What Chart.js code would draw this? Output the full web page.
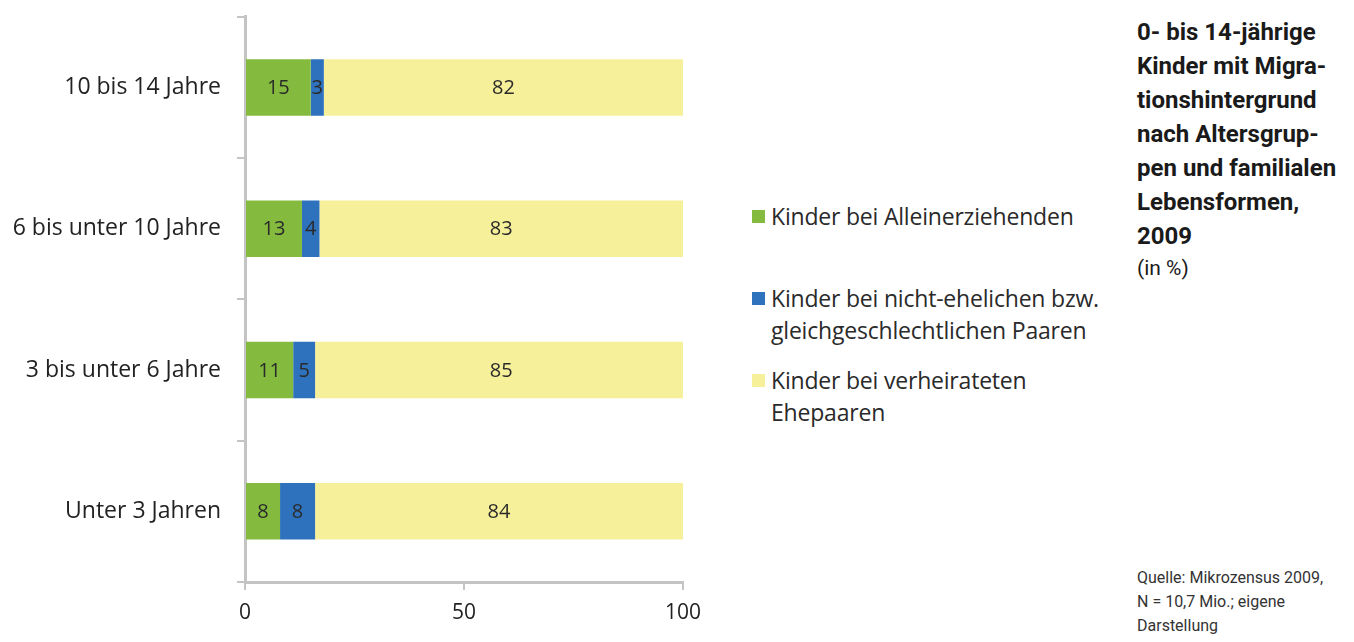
<!DOCTYPE html>
<html>
<head>
<meta charset="utf-8">
<script src="https://cdn.jsdelivr.net/npm/chart.js@4/dist/chart.umd.min.js"></script>
<style>
  body { margin: 0; background: #fff; width: 1354px; height: 642px; position: relative; overflow: hidden; }
  #wrap { position: absolute; left: 0; top: -13px; width: 711px; height: 655px; }
  #legend { position: absolute; left: 752px; top: 200px; font-family: "Open Sans", Lato, sans-serif; font-size: 23px; letter-spacing: -0.2px; color: #2a2a2a; }
  .item { position: relative; padding-left: 19px; line-height: 32px; }
  .item span.box { position: absolute; left: 0; top: 10px; width: 13px; height: 13px; }
  #title { position: absolute; left: 1137px; top: 15px; font-family: "Liberation Sans Narrow", Roboto, sans-serif; font-weight: bold; font-size: 24px; line-height: 34px; color: #1a1a1a; }
  #unit { font-weight: normal; font-size: 21px; line-height: 30px; }
  #source { position: absolute; left: 1137px; top: 566px; font-family: "Liberation Sans Narrow", Roboto, sans-serif; font-size: 16px; line-height: 24px; color: #333; }
</style>
</head>
<body>
<div id="wrap"><canvas id="chart"></canvas></div>
<div id="legend"></div>
<div id="title">0- bis 14-jährige<br>Kinder mit Migra-<br>tionshintergrund<br>nach Altersgrup-<br>pen und familialen<br>Lebensformen,<br>2009<div id="unit">(in %)</div></div>
<div id="source">Quelle: Mikrozensus 2009,<br>N = 10,7 Mio.; eigene<br>Darstellung</div>
<script>
const categories = ["10 bis 14 Jahre", "6 bis unter 10 Jahre", "3 bis unter 6 Jahre", "Unter 3 Jahren"];
const alleinerziehend = [15, 13, 11, 8];
const nichtEhelich = [3, 4, 5, 8];
const verheiratet = [82, 83, 85, 84];
const seriesNames = [
  ["Kinder bei Alleinerziehenden"],
  ["Kinder bei nicht-ehelichen bzw.", "gleichgeschlechtlichen Paaren"],
  ["Kinder bei verheirateten", "Ehepaaren"]
];
const seriesColors = ["#84bb3e", "#2e72bd", "#f7f09a"];
const xTicks = [0, 50, 100];

const axisColor = "#c4c4c4";
const fontFamily = "'Open Sans', Lato, sans-serif";

// numbers in the middle of each segment
const segmentLabels = {
  id: "segmentLabels",
  afterDatasetsDraw(chart) {
    const ctx = chart.ctx;
    ctx.save();
    ctx.font = "20px " + fontFamily;
    ctx.fillStyle = "#2a2a2a";
    ctx.textAlign = "center";
    ctx.textBaseline = "middle";
    chart.data.datasets.forEach((ds, i) => {
      chart.getDatasetMeta(i).data.forEach((bar, j) => {
        const x = (bar.x + bar.base) / 2;
        ctx.fillText(ds.data[j], x, bar.y + 1);
      });
    });
    ctx.restore();
  }
};

const datasets = [alleinerziehend, nichtEhelich, verheiratet].map((d, i) => ({
  label: seriesNames[i].join(" "),
  data: d,
  backgroundColor: seriesColors[i],
  borderWidth: 0,
  barPercentage: 0.4,
  categoryPercentage: 1
}));

chart = new Chart(document.getElementById("chart"), {
  type: "bar",
  data: { labels: categories, datasets },
  plugins: [segmentLabels],
  options: {
    indexAxis: "y",
    responsive: true,
    maintainAspectRatio: false,
    animation: false,
    layout: { padding: { top: 2, right: 20, left: 0, bottom: 0 } },
    plugins: { legend: { display: false }, tooltip: { enabled: false } },
    scales: {
      x: {
        stacked: true,
        min: 0,
        max: 100,
        afterBuildTicks: axis => { axis.ticks = xTicks.map(v => ({ value: v })); },
        border: { color: axisColor, width: 3 },
        grid: { drawOnChartArea: false, drawTicks: true, tickLength: 8, color: axisColor, lineWidth: 2 },
        ticks: { font: { family: fontFamily, size: 21 }, color: "#222", padding: 10 },
        afterFit: axis => { axis.height = 60; }
      },
      y: {
        stacked: true,
        border: { color: axisColor, width: 3 },
        grid: { drawOnChartArea: false, drawTicks: true, tickLength: 8, color: axisColor, lineWidth: 2, offset: true },
        ticks: { font: { family: fontFamily, size: 23 }, color: "#222", padding: 16 },
        afterFit: axis => { axis.width = 245; }
      }
    }
  }
});

const legend = document.getElementById("legend");
legend.innerHTML = seriesNames.map((lines, i) =>
  `<div class="item" style="margin-bottom:${i === 0 ? 50 : 18}px"><span class="box" style="background:${seriesColors[i]}"></span>${lines.join("<br>")}</div>`
).join("");
</script>
</body>
</html>
